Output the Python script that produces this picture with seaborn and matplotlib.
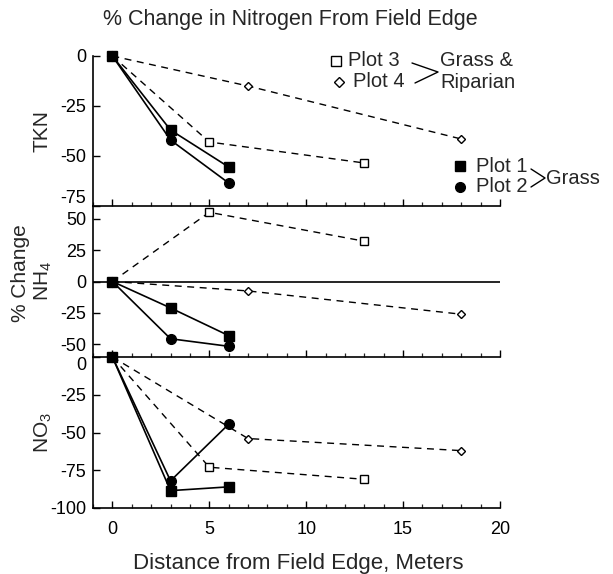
import matplotlib
matplotlib.use("Agg")
import matplotlib.pyplot as plt
import matplotlib.transforms as mtransforms
from matplotlib.lines import Line2D
from matplotlib.ticker import MultipleLocator
import seaborn as sns
import pandas as pd

# ---- data ----
dist_p1 = [0, 3, 6]
dist_p2 = [0, 3, 6]
dist_p3 = [0, 5, 13]
dist_p4 = [0, 7, 18]

tkn_p1 = [0, -37, -55.5]
tkn_p2 = [0, -42, -63.5]
tkn_p3 = [0, -43, -53.5]
tkn_p4 = [0, -15, -41.5]

nh4_p1 = [0, -21, -43]
nh4_p2 = [0, -45.5, -51.5]
nh4_p3 = [0, 55, 32]
nh4_p4 = [0, -7.5, -26]

no3_p1 = [0, -88.5, -86]
no3_p2 = [0, -82, -44.5]
no3_p3 = [0, -73, -81]
no3_p4 = [0, -54, -62]

panel_names = ["TKN", "NH4", "NO3"]
y_limits = {"TKN": (-75, 0), "NH4": (-60, 60), "NO3": (-100, 0)}
y_ticks = {"TKN": [0, -25, -50, -75], "NH4": [50, 25, 0, -25, -50], "NO3": [0, -25, -50, -75, -100]}
x_ticks = [0, 5, 10, 15, 20]

series = {
    "TKN": [tkn_p1, tkn_p2, tkn_p3, tkn_p4],
    "NH4": [nh4_p1, nh4_p2, nh4_p3, nh4_p4],
    "NO3": [no3_p1, no3_p2, no3_p3, no3_p4],
}
dists = [dist_p1, dist_p2, dist_p3, dist_p4]
plot_names = ["Plot 1", "Plot 2", "Plot 3", "Plot 4"]

rows = []
for panel in panel_names:
    for name, d, vals in zip(plot_names, dists, series[panel]):
        for x, y in zip(d, vals):
            rows.append({"panel": panel, "plot": name, "dist": x, "pct": y})
df = pd.DataFrame(rows)

# ---- style ----
sns.set_theme(style="ticks")
plt.rcParams["font.family"] = ["Liberation Sans", "DejaVu Sans"]
plt.rcParams["mathtext.fontset"] = "custom"
plt.rcParams["mathtext.rm"] = "Liberation Sans"
plt.rcParams["mathtext.it"] = "Liberation Sans"
plt.rcParams["axes.unicode_minus"] = False

W, H = 613, 574
fig = plt.figure(figsize=(W / 100, H / 100), dpi=100)


def fx(x):
    return x / W


def fy(y):
    return 1 - y / H


left, right = 93, 500
tops = [56, 206, 357]
bottoms = [206, 357, 508]

styles = {
    "Plot 1": dict(marker="s", ms=6.5, mfc="black", mec="black", lw=1.2, dashes=None),
    "Plot 2": dict(marker="o", ms=7, mfc="black", mec="black", lw=1.2, dashes=None),
    "Plot 3": dict(marker="s", ms=6, mfc="white", mec="black", lw=1.0, dashes=(5, 4)),
    "Plot 4": dict(marker="D", ms=4.5, mfc="white", mec="black", lw=1.0, dashes=(5, 4)),
}

axes = []
for i, panel in enumerate(panel_names):
    ax = fig.add_axes([fx(left), fy(bottoms[i]), fx(right - left), (bottoms[i] - tops[i]) / H])
    axes.append(ax)
    sub = df[df["panel"] == panel]
    if panel == "NH4":
        ax.axhline(0, color="black", lw=1.2, zorder=1)
    for name in ["Plot 3", "Plot 4", "Plot 1", "Plot 2"]:
        st = styles[name]
        d = sub[sub["plot"] == name]
        kw = dict(marker=st["marker"], markersize=st["ms"], markerfacecolor=st["mfc"],
                  markeredgecolor=st["mec"], markeredgewidth=1.0, color="black",
                  linewidth=st["lw"], clip_on=False, zorder=3)
        if st["dashes"] is not None:
            kw["dashes"] = st["dashes"]
        sns.lineplot(data=d, x="dist", y="pct", ax=ax, legend=False, sort=False,
                     estimator=None, **kw)
    ax.set_xlim(-1, 20)
    ax.set_ylim(*y_limits[panel])
    ax.set_yticks(y_ticks[panel])
    ax.set_xticks(x_ticks)
    ax.xaxis.set_minor_locator(MultipleLocator(1))
    ax.set_xlabel("")
    ax.set_ylabel("")
    for s in ["top", "right"]:
        ax.spines[s].set_visible(False)
    for s in ["left", "bottom"]:
        ax.spines[s].set_linewidth(1.2)
        ax.spines[s].set_color("black")
    ax.tick_params(axis="both", which="major", direction="in", length=5, width=1.0,
                   labelsize=13, colors="black")
    ax.tick_params(axis="x", which="minor", direction="in", length=3, width=0.9)
    ax.tick_params(axis="y", which="major", pad=5)
    ax.tick_params(axis="x", which="major", pad=9)
    if i < 2:
        ax.tick_params(axis="x", which="both", labelbottom=False)
    ax.patch.set_visible(False)

# nudge the boundary tick labels like the reference (avoid collisions)
fig.canvas.draw()
up = mtransforms.ScaledTranslation(0, 7 / 72, fig.dpi_scale_trans)
down = mtransforms.ScaledTranslation(0, -5 / 72, fig.dpi_scale_trans)
for lab in axes[0].get_yticklabels():
    if lab.get_text() == "-75":
        lab.set_transform(lab.get_transform() + up)
for lab in axes[2].get_yticklabels():
    if lab.get_text() == "0":
        lab.set_transform(lab.get_transform() + down)

# ---- titles and labels ----
fig.text(fx(290), fy(20), "% Change in Nitrogen From Field Edge", ha="center", va="center", fontsize=15.5)
fig.text(fx(298), fy(563), "Distance from Field Edge, Meters", ha="center", va="center", fontsize=16)
fig.text(fx(42), fy(131), "TKN", rotation=90, ha="center", va="center", fontsize=15)
fig.text(fx(21), fy(273), "% Change", rotation=90, ha="center", va="center", fontsize=15)
fig.text(fx(43), fy(281), "NH$_4$", rotation=90, ha="center", va="center", fontsize=15)
fig.text(fx(43), fy(433), "NO$_3$", rotation=90, ha="center", va="center", fontsize=15)

# ---- custom legend ----
def legend_marker(x, y, name):
    st = styles[name]
    fig.add_artist(Line2D([fx(x)], [fy(y)], transform=fig.transFigure, marker=st["marker"],
                          markersize=st["ms"] + 1.0 if name in ("Plot 3", "Plot 4") else st["ms"],
                          markerfacecolor=st["mfc"], markeredgecolor="black",
                          markeredgewidth=1.0, linestyle="none"))


LFS = 14.5
legend_marker(336, 61, "Plot 3")
fig.text(fx(348), fy(61), "Plot 3", ha="left", va="center", fontsize=LFS)
legend_marker(339, 82, "Plot 4")
fig.text(fx(353), fy(82), "Plot 4", ha="left", va="center", fontsize=LFS)
fig.add_artist(Line2D([fx(412), fx(438), fx(415)], [fy(63), fy(72), fy(83)],
                      transform=fig.transFigure, color="black", lw=1.0))
fig.text(fx(440), fy(60), "Grass &", ha="left", va="center", fontsize=LFS)
fig.text(fx(440), fy(83), "Riparian", ha="left", va="center", fontsize=LFS)

legend_marker(460, 166, "Plot 1")
fig.text(fx(476), fy(166), "Plot 1", ha="left", va="center", fontsize=LFS)
legend_marker(460, 187, "Plot 2")
fig.text(fx(476), fy(187), "Plot 2", ha="left", va="center", fontsize=LFS)
fig.add_artist(Line2D([fx(531), fx(545), fx(531)], [fy(169), fy(178), fy(187)],
                      transform=fig.transFigure, color="black", lw=1.0))
fig.text(fx(546), fy(179), "Grass", ha="left", va="center", fontsize=LFS)

fig.savefig("out.png", dpi=100)
